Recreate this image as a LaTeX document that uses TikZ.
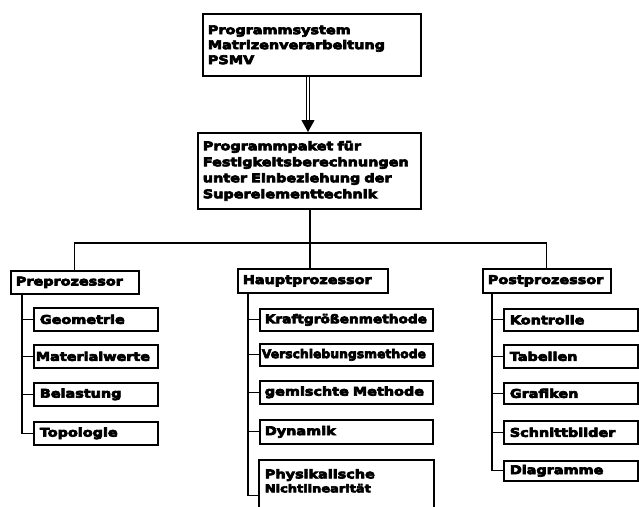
\documentclass[tikz,border=0pt]{standalone}
\usepackage{fontspec}
\newfontface\boxfont[FakeStretch=1.2]{DejaVu Sans Bold}
\newcommand\heavytext{\special{pdf:literal 2 Tr 0.7 w}}
\usetikzlibrary{arrows.meta}
\begin{document}
\begin{tikzpicture}[x=1pt,y=-1pt,
  box/.style={draw, line width=1.7pt, anchor=north west, inner xsep=5pt, inner ysep=0pt,
    align=left, font=\heavytext\boxfont\fontsize{12}{15}\selectfont},
  boxline/.style={line width=1.7pt},
  link/.style={line width=1.2pt},
  dbl/.style={line width=1pt, double distance=2pt}]
\clip (0,0) rectangle (639,506);
\fill[white] (0,0) rectangle (639,506);
% top level
\node[box, minimum width=218pt, minimum height=62pt, text width=208pt] (psmv) at (202,13)
  {Programmsystem\\Matrizenverarbeitung\\PSMV};
\node[box, minimum width=223pt, minimum height=76pt, text width=213pt,
  font=\heavytext\boxfont\fontsize{12}{16}\selectfont] (paket) at (197,132)
  {Programmpaket für\\Festigkeitsberechnungen\\unter Einbeziehung der\\Superelementtechnik};
% second level
\node[box, minimum width=128pt, minimum height=23pt, text width=118pt] (pre) at (10,270) {Preprozessor};
\node[box, minimum width=150pt, minimum height=24pt, text width=140pt] (haupt) at (237,268) {Hauptprozessor};
\node[box, minimum width=128pt, minimum height=24pt, text width=118pt] (post) at (482,268) {Postprozessor};
% preprocessor children
\node[box, minimum width=124pt, minimum height=23pt, text width=112pt, inner xsep=6pt] (geo) at (33,307) {Geometrie};
\node[box, minimum width=124pt, minimum height=23pt, text width=120pt, inner xsep=2pt] (mat) at (33,344) {Materialwerte};
\node[box, minimum width=124pt, minimum height=23pt, text width=112pt, inner xsep=6pt] (bel) at (33,382) {Belastung};
\node[box, minimum width=124pt, minimum height=23pt, text width=112pt, inner xsep=6pt] (topo) at (33,421) {Topologie};
% main processor children
\node[box, minimum width=173pt, minimum height=22pt, text width=163pt] (kraft) at (259,308) {\scalebox{0.95}[1]{Kraftgrößenmethode}};
\node[box, minimum width=173pt, minimum height=22pt, text width=169pt, inner xsep=2pt] (versch) at (259,343) {\scalebox{0.86}[1]{Verschiebungsmethode}};
\node[box, minimum width=173pt, minimum height=23pt, text width=163pt] (gem) at (259,380) {gemischte Methode};
\node[box, minimum width=173pt, minimum height=24pt, text width=163pt] (dyn) at (259,419) {Dynamik};
\node[box, draw=none, minimum width=173pt, minimum height=40pt, text width=163pt,
  font=\heavytext\boxfont\fontsize{12}{14}\selectfont] (phys) at (259,460)
  {Physikalische\\\scalebox{0.9}{Nichtlinearität}};
\draw[boxline] ([yshift=-20pt]phys.south west) |- (phys.north east) -- ([yshift=-20pt]phys.south east);
% postprocessor children
\node[box, minimum width=134pt, minimum height=22pt, text width=122pt, inner xsep=6pt] (kontr) at (503,308) {Kontrolle};
\node[box, minimum width=134pt, minimum height=23pt, text width=122pt, inner xsep=6pt] (tab) at (503,344) {Tabellen};
\node[box, minimum width=134pt, minimum height=21pt, text width=122pt, inner xsep=6pt] (graf) at (503,382) {Grafiken};
\node[box, minimum width=134pt, minimum height=23pt, text width=122pt, inner xsep=6pt] (schn) at (503,420) {Schnittbilder};
\node[box, minimum width=134pt, minimum height=20pt, text width=122pt, inner xsep=6pt] (diag) at (503,460) {Diagramme};
% connectors
\coordinate (ax) at (308,0);
\coordinate (sp) at (310,243);
\draw[dbl] (psmv.south -| ax) -- ([yshift=11pt]paket.north -| ax);
\draw[-{Triangle[width=13pt,length=12pt]}, line width=1pt] ([yshift=12pt]paket.north -| ax) -- (paket.north -| ax);
\draw[link] (paket.south -| sp) -- (haupt.north -| sp);
\draw[link] (pre.north) |- (sp) -| (post.north);
\foreach \c in {geo,mat,bel,topo}
  \draw[link] ([xshift=12pt]pre.south west) |- (\c.west);
\foreach \c in {kraft,versch,gem,dyn}
  \draw[link] ([xshift=11pt]haupt.south west) |- (\c.west);
\draw[link] ([xshift=11pt]haupt.south west) |- ([yshift=-15pt]phys.west);
\foreach \c in {kontr,tab,graf,schn,diag}
  \draw[link] ([xshift=10pt]post.south west) |- (\c.west);
\end{tikzpicture}
\end{document}
